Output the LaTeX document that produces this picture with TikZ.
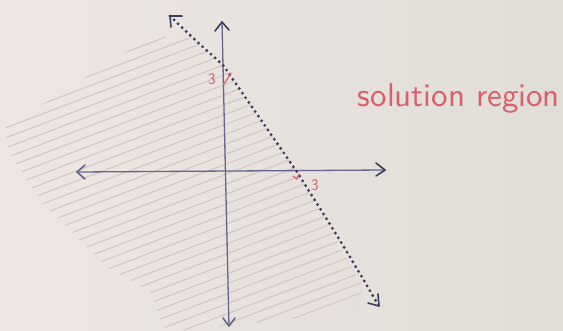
\documentclass[tikz,border=0pt]{standalone}
\usepackage{graphicx}
\usetikzlibrary{arrows.meta}
\definecolor{axisc}{RGB}{100,100,140}
\definecolor{dotc}{RGB}{60,60,95}
\definecolor{hatchc}{RGB}{212,194,194}
\definecolor{redink}{RGB}{215,95,105}
\tikzset{
  axisline/.style={axisc, line width=1.3pt, line cap=round},
  tipline/.style={line width=1.6pt, line cap=round, line join=round},
  dotline/.style={dotc, line width=3.2pt, line cap=round, dash pattern=on 0pt off 5.6pt},
  hatch/.style={hatchc, line width=1pt},
  redlabel/.style={text=redink, font=\sffamily\fontsize{16}{16}\selectfont, inner sep=0pt},
  redmark/.style={redink, line width=1.2pt, line cap=round},
}
\begin{document}
\begin{tikzpicture}[x=1pt,y=-1pt]
\useasboundingbox (0,0) rectangle (563,330);
\shade[left color={rgb,255:red,238;green,230;blue,228}, right color={rgb,255:red,224;green,221;blue,214}] (0,0) rectangle (563,330);
% key points
\coordinate (Ltop) at (170,16);
\coordinate (Yint) at (223,65);
\coordinate (Xint) at (297,172);
\coordinate (Lbot) at (379,306);
\coordinate (Ytop) at (222,22);
\coordinate (Ybot) at (229,326);
\coordinate (Xleft) at (77,172);
\coordinate (Xright) at (385,170);
% hatching
\begin{scope}
\clip (150,37) -- (191,37) -- (Yint) -- (Xint) -- (364,288) -- (355,305) -- (300,318) -- (185,330) -- (165,330) -- (150,292) -- (108,268) -- (40,200) -- (8,150) -- (5,128) -- cycle;
\foreach \i in {0,...,56}{
  \draw[hatch] (0,\i*10) -- (563,\i*10-214);
}
\end{scope}
% axes
\draw[axisline] (Xleft) -- (Xright);
\draw[axisline] (Ytop) -- (Ybot);
% axis arrow tips
\draw[tipline, axisc] ([shift={(8,-7)}]Xleft) -- (Xleft) -- ([shift={(8,7)}]Xleft);
\draw[tipline, dotc] ([shift={(-9,-7)}]Xright) -- (Xright) -- ([shift={(-9,6)}]Xright);
\draw[tipline, dotc] ([shift={(-7,9)}]Ytop) -- (Ytop) -- ([shift={(7,8)}]Ytop);
\draw[tipline, axisc] ([shift={(-6,-8)}]Ybot) -- (Ybot) -- ([shift={(6,-8)}]Ybot);
% dotted boundary line
\draw[dotline] (Ltop) .. controls (195,40) .. (Yint) .. controls (260,118) .. (Xint) .. controls (340,240) .. (Lbot);
% dotted line arrow tips
\draw[tipline, dotc] ([shift={(12,0)}]Ltop) -- (Ltop) -- ([shift={(1,11)}]Ltop);
\draw[tipline, dotc] ([shift={(-1,-12)}]Lbot) -- (Lbot) -- ([shift={(-11,-3)}]Lbot);
% labels
\node[redlabel] (three1) at (212,79) {3};
\node[redlabel] (three2) at (315,185) {3};
\draw[redmark] (223,85) -- (226,81) -- (231,73);
\draw[redmark] (293,176) -- (297,179) -- (299,174);
\node[text=redink, inner sep=0pt] (sol) at (459,98) {\resizebox{202pt}{!}{\sffamily solution region}};
\end{tikzpicture}
\end{document}
